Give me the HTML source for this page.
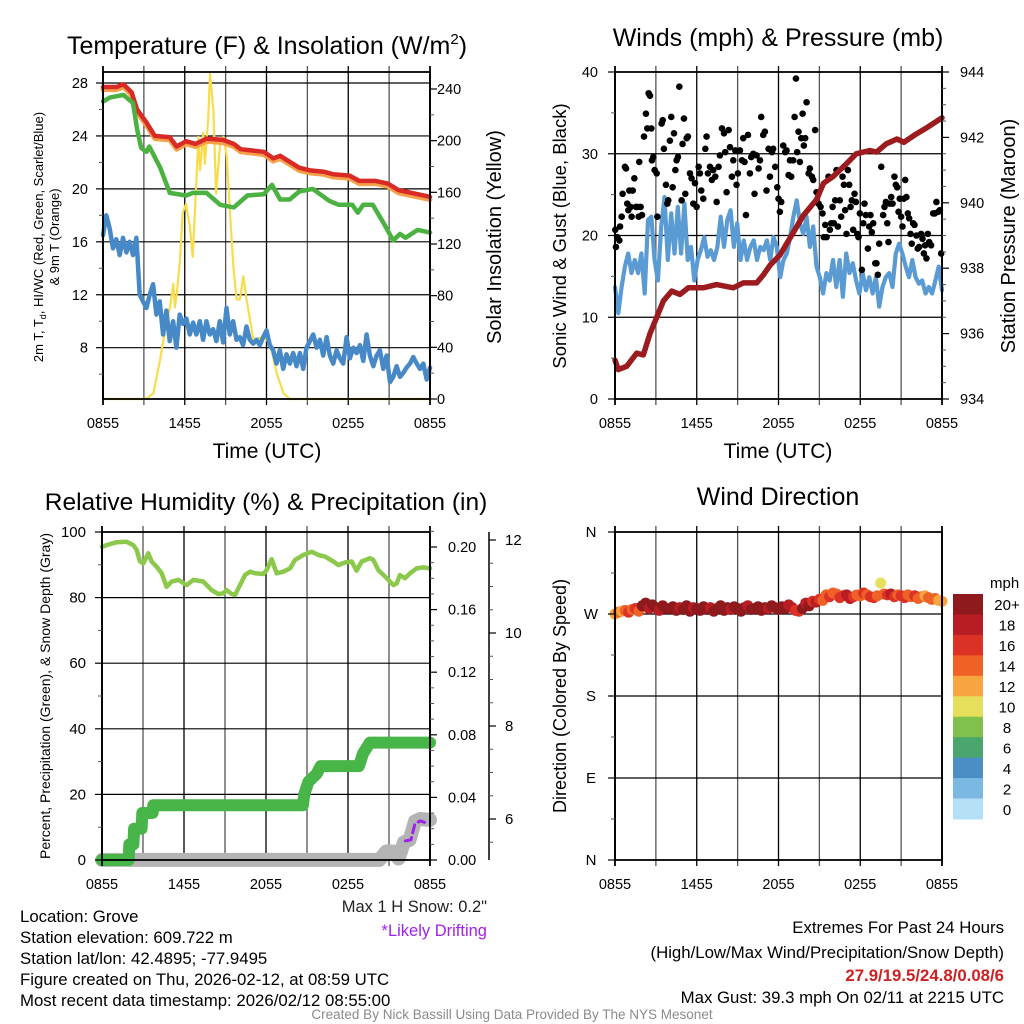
<!DOCTYPE html>
<html><head><meta charset="utf-8"><title>Mesonet Meteogram - Grove</title>
<style>
html,body{margin:0;padding:0;background:#fff;}
svg{display:block;font-family:"Liberation Sans",Arial,sans-serif;}
</style></head>
<body>
<svg id="root" width="1024" height="1024" viewBox="0 0 1024 1024" xmlns="http://www.w3.org/2000/svg">
<rect x="0" y="0" width="1024" height="1024" fill="#fff"/>
<g id="layer"></g>
<!-- titles -->
<text x="267" y="54" font-size="25" text-anchor="middle">Temperature (F) &amp; Insolation (W/m<tspan font-size="15" dy="-10">2</tspan><tspan dy="10">)</tspan></text>
<text x="778" y="46" font-size="25" text-anchor="middle">Winds (mph) &amp; Pressure (mb)</text>
<text x="266" y="510" font-size="24.5" text-anchor="middle">Relative Humidity (%) &amp; Precipitation (in)</text>
<text x="778" y="505" font-size="25" text-anchor="middle">Wind Direction</text>
<!-- axis titles -->
<text x="267" y="458" font-size="21" text-anchor="middle">Time (UTC)</text>
<text x="778" y="458" font-size="21" text-anchor="middle">Time (UTC)</text>
<text transform="translate(43,237) rotate(-90)" font-size="13" text-anchor="middle">2m T, T<tspan font-size="9" dy="3">d</tspan><tspan dy="-3">, HI/WC (Red, Green, Scarlet/Blue)</tspan></text>
<text transform="translate(59,237) rotate(-90)" font-size="13" text-anchor="middle">&amp; 9m T (Orange)</text>
<text transform="translate(501,237) rotate(-90)" font-size="20" text-anchor="middle">Solar Insolation (Yellow)</text>
<text transform="translate(566,236) rotate(-90)" font-size="18.5" text-anchor="middle">Sonic Wind &amp; Gust (Blue, Black)</text>
<text transform="translate(1015,236) rotate(-90)" font-size="20" text-anchor="middle">Station Pressure (Maroon)</text>
<text transform="translate(50,696) rotate(-90)" font-size="14" text-anchor="middle">Percent, Precipitation (Green), &amp; Snow Depth (Gray)</text>
<text transform="translate(566,696) rotate(-90)" font-size="18" text-anchor="middle">Direction (Colored By Speed)</text>
<!-- colorbar label -->
<text x="990" y="588" font-size="15">mph</text>
<!-- bottom texts -->
<text x="487" y="912" font-size="16.5" text-anchor="end" fill="#222">Max 1 H Snow: 0.2"</text>
<text x="487" y="936" font-size="16.5" text-anchor="end" fill="#a020f0">*Likely Drifting</text>
<g font-size="16.8">
<text x="20" y="922">Location: Grove</text>
<text x="20" y="943">Station elevation: 609.722 m</text>
<text x="20" y="964">Station lat/lon: 42.4895; -77.9495</text>
<text x="20" y="985">Figure created on Thu, 2026-02-12, at 08:59 UTC</text>
<text x="20" y="1006">Most recent data timestamp: 2026/02/12 08:55:00</text>
</g>
<g font-size="16.8" text-anchor="end">
<text x="1004" y="933">Extremes For Past 24 Hours</text>
<text x="1004" y="958">(High/Low/Max Wind/Precipitation/Snow Depth)</text>
<text x="1004" y="981" font-weight="bold" fill="#cc2222">27.9/19.5/24.8/0.08/6</text>
<text x="1004" y="1003">Max Gust: 39.3 mph On 02/11 at 2215 UTC</text>
</g>
<text x="512" y="1019" font-size="13.5" fill="#8a8a8a" text-anchor="middle">Created By Nick Bassill Using Data Provided By The NYS Mesonet</text>
</svg>
<script>
// ---------- DATA ----------
const xTickLabels = ["0855","1455","2055","0255","0855"];
// Panel 1
const tempHours = [0,1,1.5,2.1,2.5,3.2,3.8,4.9,5.4,6.1,6.8,7.6,8.8,9.6,10.1,11.8,12.5,13,14.4,15.2,16.2,16.9,18.1,18.8,20,20.9,21.7,24];
const tempT = [27.7,27.7,27.9,27.3,26,25,24,23.9,23.2,23.6,23.4,23.8,23.7,23.4,23,22.8,22.3,22.5,21.6,21.4,21.3,21.1,21.0,20.6,20.6,20.4,19.9,19.4];
const temp9m = [27.5,27.5,27.7,27.1,25.8,24.8,23.8,23.7,23.0,23.4,23.2,23.6,23.5,23.2,22.8,22.6,22.1,22.3,21.4,21.2,21.1,20.9,20.8,20.4,20.4,20.2,19.7,19.2];
const dewHours = [0,0.5,1.5,2.2,2.5,2.8,3.2,3.4,3.7,4.2,4.9,6.1,6.6,7.6,8.6,9.6,10.6,11.8,12.4,13,13.7,14.4,15.4,16.6,17.3,18.3,18.7,19.1,19.8,20.6,21.3,21.8,22.2,23.1,24];
const dewT = [26.6,26.9,27.1,26.5,24.5,23.1,22.8,23.2,22.6,21.6,19.7,19.5,19.7,19.7,18.8,18.6,19.5,19.6,20.3,19.2,19.2,19.8,20,19.1,18.8,18.8,18.2,18.8,18.8,17.4,16.1,16.6,16.3,16.9,16.7];
const windChill = [16.5,18,17,15.5,16.2,15,16.3,15.2,16,15,16.3,12,11.5,11,12,12.8,10.5,11.5,9,10.8,8.5,10,8,10.5,9.8,10.2,9,9.9,9,10,8.6,10,9,9.4,8.5,10,8.4,11,9,10,8.6,8.8,8.2,9.6,8.6,8.3,8.6,8.2,8.8,9.3,8.2,7.8,6.8,7.8,6.4,7.5,6.8,7.6,6.6,7.6,6.4,8,8.5,9,8,8.6,7.4,8.8,7.4,6.8,7.8,7.2,6.8,8.8,7.2,8,7.6,8.2,7,9,7.4,6.6,7.4,7.8,6.4,7.4,5.4,5.8,6.6,5.8,6.1,6.5,6.8,7.3,6.8,6.4,6.8,5.6,6.5];
const solarHours = [0,3.0,3.3,3.7,4.18,4.68,4.92,5.16,5.28,5.45,5.65,5.85,6.09,6.38,6.58,6.75,7.0,7.12,7.36,7.48,7.73,7.85,8.1,8.3,8.6,8.84,9.08,9.32,9.57,9.81,10.05,10.3,10.54,11.03,11.77,12.26,12.75,13.24,13.72,24];
const solarVals = [0,0,1,4.5,30,61,71,89,71,85,108,144,151,133,110,146,203,177,206,182,218,252,224,159,198,203,188,144,102,77,77,95,77,46,48,43,20,4.5,0,0];
// Panel 2
const pressHours = [0,0.24,0.86,1.59,2.08,2.57,3.06,3.55,4.16,4.77,5.38,6.48,7.46,8.68,9.42,10.4,10.9,11.4,12.1,13.1,13.8,14.8,15.3,16.0,17.0,17.7,18.7,19.2,19.9,20.7,21.2,22.1,22.9,24];
const pressVals = [935.19,934.9,935.0,935.4,935.35,936.0,936.5,937.0,937.3,937.2,937.4,937.4,937.5,937.4,937.55,937.55,937.8,938.1,938.4,939.1,939.6,940.1,940.6,940.8,941.2,941.5,941.6,941.55,941.8,941.95,941.85,942.1,942.3,942.6];
const windSpeed = [13.7,10.5,13.7,16.2,17.8,15.4,17.0,15.4,17.8,12.9,21.9,22.3,17.0,14.5,21.1,24.7,17.0,22.7,17.8,23.5,17.8,23.9,17.0,18.6,14.5,17.0,18.2,19.8,17.4,18.2,17.0,18.6,22.3,18.6,21.9,23.1,18.6,21.5,17.0,19.4,17.0,18.6,19.4,17.0,18.6,18.2,19.4,17.0,19.8,18.6,14.9,17.0,17.8,19.8,22.3,24.3,21.5,20.2,22.3,18.6,21.1,16.2,14.9,12.9,15.4,14.5,17.0,13.7,17.0,12.5,17.8,15.4,16.6,14.5,12.9,15.4,13.3,14.9,12.9,14.9,11.3,13.7,14.9,15.4,13.7,17.8,19.0,17.8,16.2,14.9,17.0,14.9,14.1,14.5,12.9,13.7,12.9,14.5,16.2,13.3];
const gustHours = [0.02,0.07,0.17,0.32,0.37,0.49,0.56,0.73,0.81,0.90,0.98,1.05,1.15,1.22,1.30,1.42,1.54,1.64,1.74,1.78,1.88,1.98,2.13,2.27,2.37,2.47,2.57,2.67,2.71,2.81,2.91,3.06,3.11,3.42,3.50,3.59,3.74,3.84,3.91,4.03,4.13,4.23,4.33,4.43,4.52,4.62,4.72,4.89,4.96,5.06,5.16,5.26,5.35,5.50,5.62,5.75,5.87,5.99,6.14,6.23,6.33,6.48,6.63,6.72,6.82,6.97,7.11,7.21,7.36,7.46,7.60,7.70,7.85,8.00,8.09,8.19,8.34,8.44,8.58,8.68,8.83,8.92,9.02,9.17,9.32,9.41,9.51,9.61,9.76,9.90,10.0,10.15,10.24,10.39,10.54,10.64,10.73,10.88,11.00,11.12,11.27,11.37,11.52,11.61,11.76,11.91,12.00,12.10,12.20,12.35,12.49,12.59,12.74,12.84,12.93,13.08,13.18,13.28,13.37,13.47,13.57,13.67,13.77,13.86,13.96,14.06,14.21,14.30,14.45,14.55,14.69,14.79,14.94,15.09,15.23,15.33,15.43,15.53,15.67,15.77,15.87,15.97,16.06,16.16,16.26,16.36,16.50,16.60,16.70,16.80,16.89,16.99,17.09,17.19,17.29,17.38,17.48,17.58,17.68,17.78,17.87,17.97,18.12,18.22,18.31,18.41,18.56,18.66,18.75,18.85,18.95,19.10,19.19,19.29,19.39,19.54,19.68,19.78,19.88,19.98,20.07,20.17,20.27,20.37,20.51,20.61,20.71,20.81,20.90,21.00,21.10,21.20,21.30,21.39,21.49,21.59,21.69,21.78,21.88,21.98,22.13,22.22,22.32,22.47,22.57,22.67,22.76,22.86,22.96,23.06,23.20,23.35,23.47,23.59,23.72,23.84,23.94];
const gustVals = [20.7,18.6,19.8,19.4,21.1,22.3,25.1,28.4,28.2,23.9,23.1,25.5,23.5,22.3,25.5,27.0,23.5,23.5,22.3,29.0,23.5,22.5,32.1,34.9,33.1,37.4,37.1,33.1,29.2,29.6,28.0,27.6,22.3,33.7,34.1,30.6,26.2,23.9,24.3,31.6,34.5,25.9,32.5,28.0,29.2,29.6,38.2,24.3,31.2,34.3,25.1,31.9,32.1,27.6,27.0,23.9,26.4,23.5,28.4,27.6,25.5,24.5,30.6,32.1,27.6,28.4,26.8,28.0,27.2,24.1,28.4,29.8,33.1,32.5,30.2,25.3,32.9,30.8,27.2,29.2,30.4,26.2,27.6,30.4,29.2,31.9,29.0,22.5,32.3,27.6,29.6,30.0,25.1,29.8,28.2,29.2,34.5,32.3,32.7,25.5,30.6,27.2,30.2,30.6,28.4,25.9,24.5,22.9,24.1,31.0,30.2,30.4,27.4,29.2,27.2,29.2,34.5,39.2,30.2,32.7,29.0,31.9,34.9,31.0,31.9,36.3,27.6,28.2,27.2,26.8,32.9,25.3,23.9,23.5,22.7,19.8,21.3,19.8,27.2,20.7,21.5,23.5,21.5,24.3,28.0,21.1,24.3,22.3,27.2,26.2,23.1,20.2,28.0,26.2,23.5,24.3,20.7,25.1,24.1,20.2,19.8,22.7,15.8,21.5,23.9,22.5,18.4,21.1,22.5,20.4,21.5,16.6,16.6,15.2,19.0,28.4,22.5,23.5,24.1,21.5,19.2,23.9,24.7,23.9,27.2,26.2,25.9,22.9,24.5,22.3,21.1,24.5,26.8,24.7,22.7,22.1,20.2,19.0,21.5,21.3,20.0,18.4,18.6,20.2,19.6,17.8,18.8,17.2,20.2,19.2,18.8,22.7,22.7,24.1,22.9,23.1,17.8];
// Panel 3
const rhHours = [0,0.34,1.07,1.8,2.29,2.54,2.78,3.02,3.39,3.63,4.0,4.37,4.73,5.1,5.59,6.2,6.68,7.41,8.02,8.51,8.88,9.12,9.49,9.73,10.1,10.46,10.83,11.2,11.8,12.05,12.41,12.78,13.27,13.76,14.12,14.73,15.34,15.83,16.32,16.93,17.29,17.78,18.27,18.63,19.0,19.61,19.85,20.22,20.83,21.32,21.56,21.8,22.17,22.54,23.02,23.51,24];
const rhVals = [95.5,96,96.9,97,96,94.5,91,90.4,93.5,91,89.4,87.4,83.3,84.9,85.4,83.8,85.4,84.9,82.3,81.1,81.3,82.3,81.1,80.8,83.8,86.9,87.9,87.4,87.2,88.4,91.7,87.4,87.9,88.9,91.5,93,94,93,92.5,91,89.9,90.7,91,88.2,91,92,91.5,88.4,85.9,83.8,84.3,86.9,85.9,87.4,88.9,89.2,88.9];
const precipHours = [0,1.95,2.0,2.3,2.35,2.9,2.95,3.7,3.75,14.7,14.8,15.1,15.7,16.0,18.8,19.1,19.6,24];
const precipVals = [0,0,0.01,0.01,0.02,0.02,0.03,0.03,0.035,0.035,0.042,0.05,0.055,0.06,0.06,0.068,0.075,0.075];
const snowHours = [0,20.3,20.8,21.3,21.7,22.1,22.5,22.9,23.3,24];
const snowVals = [5.12,5.12,5.3,5.3,5.15,5.5,5.55,5.95,6.0,5.98];
const driftHours = [22.2,22.6,22.9,23.3,23.6];
const driftVals = [5.53,5.55,5.9,5.96,5.93];
// Panel 4
const dirDeg = [270,272,273,274,272,275,276,273, 279,282,276,280, 277,274,279,276,
276,278,274,277,275,279,273,277,276,274,278,275,277,273,276,279,274,277,275,278,276,273,277,279,275,276,278,274,277,276,279,277,275,278,276,280,277,274,273,276,
282,279,284,283,286,285,291,289,
293,292,288,290,291,287,289,291,290,293,291,289,288,290,304,292,
291,292,289,291,290,288,291,289,290,287,289,290,288,286,287,285,284];
const dirSpeed = [12,14,13,15,16,14,17,15, 20,21,18,22,21,19,20,22,
21,22,20,19,23,21,20,18,22,21,20,22,19,21,23,20,21,22,18,20,21,22,20,19,21,23,22,20,21,19,22,21,20,23,21,18,19,16,17,20,
18,20,17,19,16,15,14,16,
15,14,16,17,19,18,17,15,14,16,15,17,16,15,10,14,
17,18,16,15,17,16,14,15,16,14,15,13,14,15,14,13,12];
const dirStepHours = 0.25;
const dirTickLabels = ["N","E","S","W","N"];
const speedBins = ["0","2","4","6","8","10","12","14","16","18","20+"];
const speedColors = ["#b5e1f6","#7cb9e2","#4a8ec6","#4aa66c","#80c04d","#e5df5b","#f6a541","#ef6126","#dc3226","#b81d24","#8f1a1e"];

// ---------- RENDER ----------
const NS = "http://www.w3.org/2000/svg";
const layer = document.getElementById("layer");
function mk(tag, attrs, parent){
  const el = document.createElementNS(NS, tag);
  for (const k in attrs) el.setAttribute(k, attrs[k]);
  (parent || layer).appendChild(el);
  return el;
}
function lin(d0,d1,r0,r1){ return v => r0 + (v-d0)*(r1-r0)/(d1-d0); }

const P1 = {x0:103,x1:430,y0:72,y1:399};
const P2 = {x0:615,x1:942,y0:72,y1:399};
const P3 = {x0:102,x1:430,y0:532,y1:860};
const P4 = {x0:615,x1:942,y0:532,y1:860};

function xAxis(P){ return lin(0,24,P.x0,P.x1); }

function grid(P, yVals, yf, name){
  const g = mk("g", {});
  
  
  const xf = xAxis(P);
  for (let h=3; h<24; h+=3){
    const l = mk("line", {x1:xf(h),x2:xf(h),y1:P.y0-6,y2:P.y1+6,stroke:(h%6===0)?"#000":"#555","stroke-width":1.3}, g);
    
    
  }
  yVals.forEach(v=>{
    const y = yf(v);
    if (y < P.y0+1 || y > P.y1-1) return;
    const l = mk("line", {x1:P.x0,x2:P.x1,y1:y,y2:y,stroke:"#000","stroke-width":1.2}, g);
    
    
  });
}
function frame(P, name){
  const r = mk("rect", {x:P.x0,y:P.y0,width:P.x1-P.x0,height:P.y1-P.y0,fill:"none",stroke:"#000","stroke-width":1.8});
  
  
  const xf = xAxis(P);
  [0,24].forEach(h=>{
    const t = mk("line", {x1:xf(h),x2:xf(h),y1:P.y0-6,y2:P.y1+6,stroke:"#000","stroke-width":1.8});
    
    
  });
  [0,6,12,18,24].forEach((h,i)=>{
    const t = mk("text", {x:xf(h),y:P.y1+29,"font-size":14.5,"text-anchor":"middle"});
    t.textContent = xTickLabels[i];
    
    
  });
}
function yAxis(x, side, majors, minors, yf, labels, name, lx, anchor, fs){
  const g = mk("g", {});
  
  
  const d = side === "left" ? -1 : 1;
  majors.forEach((v,i)=>{
    const t = mk("line", {x1:x,x2:x+d*7,y1:yf(v),y2:yf(v),stroke:"#000","stroke-width":1.2}, g);
    
    
    const tx = mk("text", {x:lx,y:yf(v)+5,"font-size":fs||14.5,"text-anchor":anchor}, g);
    tx.textContent = labels[i];
    
    
  });
  minors.forEach(v=>{
    const t = mk("line", {x1:x,x2:x+d*4,y1:yf(v),y2:yf(v),stroke:"#555","stroke-width":1}, g);
    
    
  });
}
function poly(hours, vals, xf, yf, style, name){
  const pts = hours.map((h,i)=> xf(h).toFixed(1)+","+yf(vals[i]).toFixed(1)).join(" ");
  const p = mk("polyline", Object.assign({points:pts,fill:"none","stroke-linejoin":"round","stroke-linecap":"round"}, style));
  
  
  return p;
}
function range(a,b,s){ const r=[]; for(let v=a; v<=b+1e-9; v+=s) r.push(+v.toFixed(4)); return r; }

// ---- Panel 1 ----
(function(){
  const P = P1, xf = xAxis(P);
  const yT = lin(8,28,347.7,83);
  const yS = lin(0,240,399,89);
  const tMaj = [8,12,16,20,24,28];
  grid(P, tMaj, yT, "temp");
  poly(solarHours, solarVals, xf, yS, {stroke:"#f8dc4a","stroke-width":2.2}, "solar-line");
  poly(tempHours, temp9m, xf, yT, {stroke:"#f5a04a","stroke-width":5}, "nine-m-temp-line");
  poly(tempHours, tempT, xf, yT, {stroke:"#d92a25","stroke-width":4.5}, "temperature-line");
  poly(dewHours, dewT, xf, yT, {stroke:"#4bb141","stroke-width":4.5}, "dewpoint-line");
  const wcH = windChill.map((v,i)=> i*24/(windChill.length-1));
  poly(wcH, windChill, xf, yT, {stroke:"#4689c6","stroke-width":4.5}, "wind-chill-line");
  frame(P, "temp");
  yAxis(P.x0, "left", tMaj, [6,10,14,18,22,26], yT, tMaj.map(String), "temp-y-axis", 88, "end");
  const sMaj = [0,40,80,120,160,200,240];
  yAxis(P.x1, "right", sMaj, range(20,240,20).filter(v=>v%40), yS, sMaj.map(String), "solar-y-axis", 437, "start");
})();

// ---- Panel 2 ----
(function(){
  const P = P2, xf = xAxis(P);
  const yW = lin(0,40,399,72);
  const yP = lin(934,944,399,72);
  const wMaj = [0,10,20,30,40];
  grid(P, wMaj, yW, "wind");
  const wH = windSpeed.map((v,i)=> i*24/(windSpeed.length-1));
  poly(wH, windSpeed, xf, yW, {stroke:"#5a9bd4","stroke-width":4.2}, "wind-speed-line");
  const gg = mk("g", {fill:"#000"});
  
  
  gustHours.forEach((h,i)=>{
    const c = mk("circle", {cx:xf(Math.max(0,h)),cy:yW(gustVals[i]),r:3.3}, gg);
    
    
  });
  poly(pressHours, pressVals, xf, yP, {stroke:"#9b1b1e","stroke-width":5.5}, "pressure-line");
  frame(P, "wind");
  yAxis(P.x0, "left", wMaj, [5,15,25,35], yW, wMaj.map(String), "wind-y-axis", 598, "end");
  const pMaj = [934,936,938,940,942,944];
  yAxis(P.x1, "right", pMaj, range(934.5,943.5,0.5).filter(v=>v%2), yP, pMaj.map(String), "pressure-y-axis", 960, "start");
})();

// ---- Panel 3 ----
(function(){
  const P = P3, xf = xAxis(P);
  const yR = lin(0,100,860,532);
  const yPr = lin(0,0.2,860,547);
  const ySn = lin(6,12,819,540);
  const rMaj = [0,20,40,60,80,100];
  grid(P, rMaj, yR, "humidity");
  poly(rhHours, rhVals, xf, yR, {stroke:"#8cc84b","stroke-width":4.5}, "humidity-line");
  poly(snowHours, snowVals, xf, ySn, {stroke:"#b4b4b4","stroke-width":14}, "snow-depth-line");
  poly(precipHours, precipVals, xf, yPr, {stroke:"#47b548","stroke-width":12}, "precipitation-line");
  poly(driftHours, driftVals, xf, ySn, {stroke:"#a020f0","stroke-width":3,"stroke-dasharray":"8,5"}, "drifting-line");
  frame(P, "humidity");
  yAxis(P.x0, "left", rMaj, [10,30,50,70,90], yR, rMaj.map(String), "humidity-y-axis", 86, "end", 15);
  const prMaj = [0,0.04,0.08,0.12,0.16,0.20];
  yAxis(P.x1, "right", prMaj, range(0.01,0.21,0.01).filter((v,i)=> (i+1)%4), yPr, ["0.00","0.04","0.08","0.12","0.16","0.20"], "precip-y-axis", 448, "start");
  const ax = mk("line", {x1:489,x2:489,y1:532,y2:860,stroke:"#000","stroke-width":1.5});
  
  
  const sMaj = [6,8,10,12];
  yAxis(489, "right", sMaj, [5.5,6.5,7,7.5,8.5,9,9.5,10.5,11,11.5], ySn, sMaj.map(String), "snow-y-axis", 505, "start", 15);
})();

// ---- Panel 4 ----
(function(){
  const P = P4, xf = xAxis(P);
  const yD = lin(0,360,860,532);
  const dMaj = [0,90,180,270,360];
  grid(P, dMaj, yD, "direction");
  const g = mk("g", {});
  
  
  dirDeg.forEach((d,i)=>{
    const s = dirSpeed[i];
    const bin = Math.min(10, Math.max(0, Math.floor(s/2)));
    const c = mk("circle", {cx:xf(i*dirStepHours),cy:yD(d),r:5.5,fill:speedColors[bin]}, g);
    
    
  });
  frame(P, "direction");
  yAxis(P.x0, "left", dMaj, [45,135,225,315], yD, dirTickLabels, "direction-y-axis", 591, "middle", 15);
  const cb = mk("g", {});
  
  
  const top = 594, bh = (819-594)/speedBins.length;
  speedBins.forEach((lab,i)=>{
    const k = speedBins.length-1-i;
    const r = mk("rect", {x:953,y:top+i*bh,width:30,height:bh+0.5,fill:speedColors[k]}, cb);
    
    
    const t = mk("text", {x:1007,y:top+i*bh+bh/2+6,"font-size":15,"text-anchor":"middle"}, cb);
    t.textContent = speedBins[k];
    
    
  });
})();
</script>
</body></html>
